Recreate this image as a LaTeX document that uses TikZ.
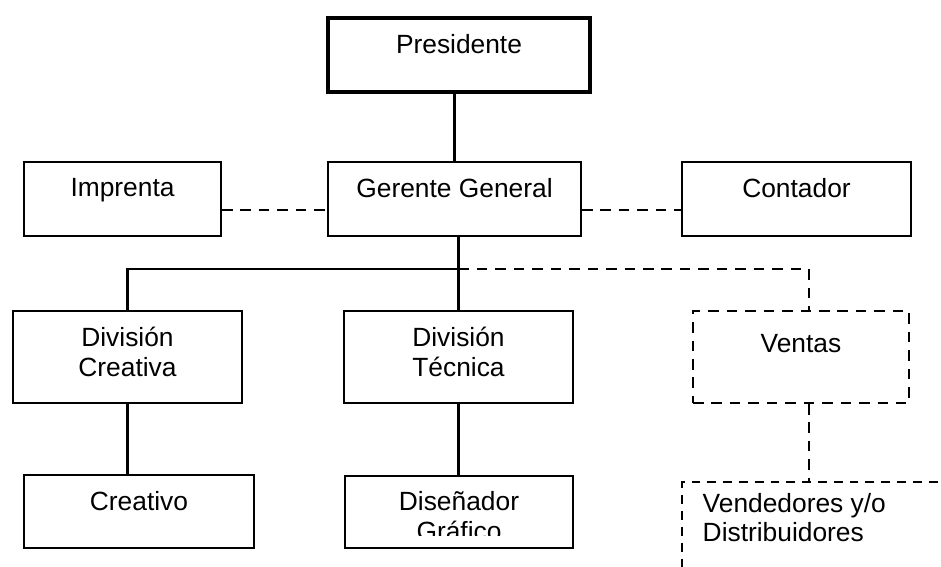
\documentclass[tikz,border=0pt]{standalone}
\usepackage{fontspec}
\setmainfont{Liberation Sans}
\usetikzlibrary{calc}
\tikzset{
  caja/.style={draw, line width=1.2pt, inner sep=0pt},
  cajapunteada/.style={caja, dash pattern=on 6pt off 4.5pt},
  texto/.style={font=\fontsize{15}{16.8}\selectfont, inner sep=0pt, anchor=north, align=center},
  linea/.style={line width=1.2pt},
  punteado/.style={line width=1.2pt, dash pattern=on 6pt off 4.5pt}
}
\begin{document}
\begin{tikzpicture}[x=0.02cm, y=-0.02cm]
    \clip (0,0) rectangle (941,567);
    \fill[white] (0,0) rectangle (941,567);
    % cajas
    \node[caja, line width=1.9pt, minimum width=5.24cm, minimum height=1.48cm] (pres) at (459,55) {};
    \node[caja, minimum width=3.94cm, minimum height=1.48cm] (imp) at (122.5,199) {};
    \node[caja, minimum width=5.06cm, minimum height=1.48cm] (ger) at (454.5,199) {};
    \node[caja, minimum width=4.58cm, minimum height=1.48cm] (cont) at (796.5,199) {};
    \node[caja, minimum width=4.58cm, minimum height=1.84cm] (divc) at (127.5,357) {};
    \node[caja, minimum width=4.58cm, minimum height=1.84cm] (divt) at (458.5,357) {};
    \node[cajapunteada, minimum width=4.32cm, minimum height=1.84cm] (vent) at (801,357) {};
    \node[caja, minimum width=4.6cm, minimum height=1.46cm] (crea) at (139,511.5) {};
    \node[caja, line width=0.75pt, minimum width=4.56cm, minimum height=1.44cm] (dis) at (459,512) {};
    \node[caja, line width=0.75pt, dash pattern=on 5pt off 4pt, minimum width=6cm, minimum height=2.6cm] (vend) at (832,547) {};
    % textos
    \node[texto] at ($(pres.north)+(0,18)$) {Presidente};
    \node[texto] at ($(imp.north)+(0,17.5)$) {Imprenta};
    \node[texto] at ($(ger.north)+(0,17.5)$) {Gerente General};
    \node[texto] at ($(cont.north)+(0,17.5)$) {Contador};
    \node[texto] at ($(divc.north)+(0,17)$) {División\\Creativa};
    \node[texto] at ($(divt.north)+(0,17)$) {División\\Técnica};
    \node[texto] at ($(vent.north)+(0,24.5)$) {Ventas};
    \node[texto] at ($(crea.north)+(0,17.5)$) {Creativo};
    \begin{scope}
        \clip (dis.north west) rectangle ([yshift=0.26cm]dis.south east);
        \node[texto] at ($(dis.north)+(0,16)$) {Diseñador\\Gráfico};
    \end{scope}
    \node[texto, anchor=north west, align=left] at ($(vend.north west)+(21,11.5)$) {Vendedores y/o\\Distribuidores};
    % conectores
    \draw[linea] (pres.south -| ger.north) -- (ger.north);
    \draw[punteado] ([yshift=-0.22cm]imp.east) -- ([yshift=-0.22cm]ger.west);
    \draw[punteado] ([yshift=-0.22cm]ger.east) -- ([yshift=-0.22cm]cont.west);
    \draw[linea] (ger.south -| divt.north) -- (divt.north);
    \coordinate (barra) at ($(ger.south -| divt.north)!0.44!(divt.north)$);
    \draw[linea] (barra) -| (divc.north);
    \draw[punteado] (barra) -| ([xshift=0.16cm]vent.north);
    \draw[linea] (divc.south) -- (divc.south |- crea.north);
    \draw[linea] (divt.south) -- (divt.south |- dis.north);
    \draw[punteado] ([xshift=0.16cm]vent.south) -- ([xshift=0.16cm]vent.south |- vend.north);
\end{tikzpicture}
\end{document}
